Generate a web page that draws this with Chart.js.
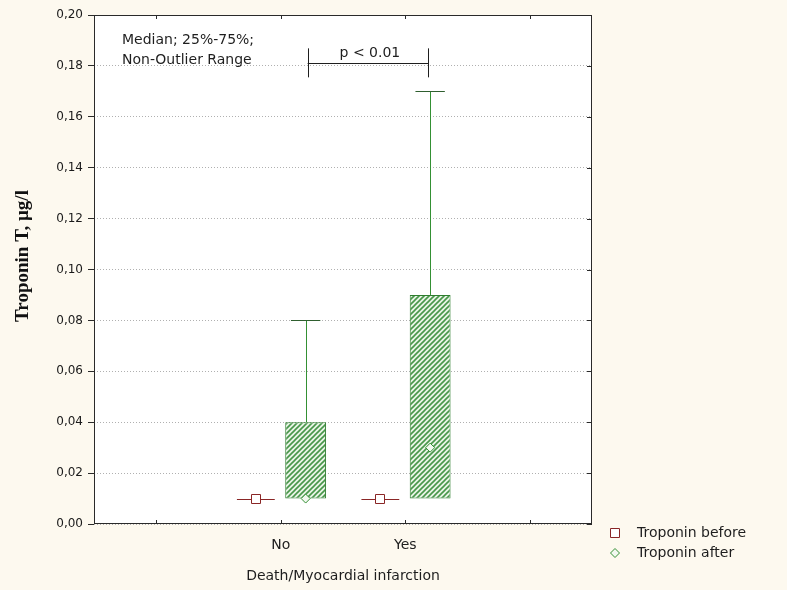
<!DOCTYPE html>
<html>
<head>
<meta charset="utf-8">
<script src="https://cdn.jsdelivr.net/npm/chart.js@4/dist/chart.umd.min.js"></script>
<style>
  html, body { margin: 0; padding: 0; background: #fdf9ef; }
  canvas { display: block; }
</style>
</head>
<body>
<canvas id="c" width="787" height="590"></canvas>
<script>
// Categories on the x axis (empty slots at both ends keep the groups centred)
const categories = ['', 'No', 'Yes', ''];
const seriesNames = ['Troponin before', 'Troponin after'];

// Troponin before: median, quartiles and non-outlier range
const beforeMedian = [null, 0.01, 0.01, null];
const beforeQ1     = [null, 0.01, 0.01, null];
const beforeQ3     = [null, 0.01, 0.01, null];
const beforeMin    = [null, 0.01, 0.01, null];
const beforeMax    = [null, 0.01, 0.01, null];

// Troponin after: median, quartiles and non-outlier range
const afterMedian = [null, 0.01, 0.03, null];
const afterQ1     = [null, 0.01, 0.01, null];
const afterQ3     = [null, 0.04, 0.09, null];
const afterMin    = [null, 0.01, 0.01, null];
const afterMax    = [null, 0.08, 0.17, null];

// Value axis
const yMin = 0, yMax = 0.20, yStep = 0.02;
const yTitle = 'Troponin T, \u00b5g/l';
const xTitle = 'Death/Myocardial infarction';
const pValueText = 'p < 0.01';
const pBracketLevel = 0.181;
const statsNote = ['Median; 25%-75%;', 'Non-Outlier Range'];

const FONT = '"DejaVu Sans", sans-serif';
const SERIF = '"Liberation Serif", "Times New Roman", serif';
const colBefore = '#8a2626';
const colAfter = '#349034';
const colBorder = '#2e7d2e';
const colCap = '#2f5f2f';

function hatchPattern() {
  const s = 5;
  const c = document.createElement('canvas');
  c.width = s; c.height = s;
  const g = c.getContext('2d');
  g.fillStyle = '#e9f4e6';
  g.fillRect(0, 0, s, s);
  g.strokeStyle = '#48974a';
  g.lineWidth = 1.6;
  g.beginPath();
  g.moveTo(-1, s + 1); g.lineTo(s + 1, -1);
  g.moveTo(-1, 1); g.lineTo(1, -1);
  g.moveTo(s - 1, s + 1); g.lineTo(s + 1, s - 1);
  g.stroke();
  return g.createPattern(c, 'repeat');
}

const boxes = (q1, q3) => q1.map((v, i) => (v === null ? null : [v, q3[i]]));

const stats = [
  { median: beforeMedian, q1: beforeQ1, q3: beforeQ3, min: beforeMin, max: beforeMax, color: colBefore, marker: 'square' },
  { median: afterMedian, q1: afterQ1, q3: afterQ3, min: afterMin, max: afterMax, color: colAfter, marker: 'diamond' }
];

function drawMarker(ctx, type, x, y, color) {
  ctx.save();
  ctx.lineWidth = 1;
  ctx.strokeStyle = color;
  ctx.fillStyle = type === 'square' ? '#ffffff' : '#f2f8f0';
  ctx.beginPath();
  if (type === 'square') {
    ctx.rect(Math.round(x) - 4.5, Math.round(y) - 4.5, 9, 9);
  } else {
    const r = 4.5;
    ctx.moveTo(x, y - r); ctx.lineTo(x + r, y); ctx.lineTo(x, y + r); ctx.lineTo(x - r, y); ctx.closePath();
  }
  ctx.fill();
  ctx.stroke();
  ctx.restore();
}

function hLine(ctx, x1, x2, y) {
  const yy = Math.round(y) + 0.5;
  ctx.beginPath(); ctx.moveTo(x1, yy); ctx.lineTo(x2, yy); ctx.stroke();
}
function vLine(ctx, x, y1, y2) {
  const xx = Math.round(x) + 0.5;
  ctx.beginPath(); ctx.moveTo(xx, y1); ctx.lineTo(xx, y2); ctx.stroke();
}

const boxExtras = {
  id: 'boxExtras',
  beforeDraw(chart) {
    const { ctx, chartArea: a } = chart;
    ctx.save();
    ctx.fillStyle = '#fdf9ef';
    ctx.fillRect(0, 0, chart.width, chart.height);
    ctx.fillStyle = '#ffffff';
    ctx.fillRect(a.left, a.top, a.right - a.left, a.bottom - a.top);
    ctx.restore();
  },
  afterDatasetsDraw(chart) {
    const { ctx } = chart;
    const y = chart.scales.y;
    ctx.save();
    stats.forEach((s, d) => {
      const meta = chart.getDatasetMeta(d);
      meta.data.forEach((el, i) => {
        if (s.median[i] === null) return;
        const x = el.x, w = el.width;
        const yQ1 = y.getPixelForValue(s.q1[i]);
        const yQ3 = y.getPixelForValue(s.q3[i]);
        const yMaxP = y.getPixelForValue(s.max[i]);
        const yMinP = y.getPixelForValue(s.min[i]);
        ctx.lineWidth = 1;
        ctx.strokeStyle = s.color;
        if (s.q1[i] === s.q3[i]) {
          hLine(ctx, x - w / 2, x + w / 2, yQ1);
        }
        if (s.max[i] > s.q3[i]) {
          vLine(ctx, x, yMaxP, yQ3);
          ctx.strokeStyle = colCap;
          hLine(ctx, x - w * 0.36, x + w * 0.36, yMaxP);
          ctx.strokeStyle = s.color;
        }
        if (s.min[i] < s.q1[i]) {
          vLine(ctx, x, yQ1, yMinP);
          ctx.strokeStyle = colCap;
          hLine(ctx, x - w * 0.36, x + w * 0.36, yMinP);
        }
        drawMarker(ctx, s.marker, x, y.getPixelForValue(s.median[i]), s.color);
      });
    });
    ctx.restore();
  },
  afterDraw(chart) {
    const { ctx, chartArea: a } = chart;
    const xs = chart.scales.x, ys = chart.scales.y;
    ctx.save();
    ctx.strokeStyle = '#2a2a2a';
    ctx.lineWidth = 1;
    // frame
    ctx.strokeRect(Math.round(a.left) + 0.5, Math.round(a.top) + 0.5,
                   Math.round(a.right - a.left) - 1, Math.round(a.bottom - a.top) - 1);
    // inward tick marks on bottom, top and right edges
    xs.ticks.forEach((t, i) => {
      const px = xs.getPixelForTick(i);
      vLine(ctx, px, a.bottom - 4, a.bottom);
      vLine(ctx, px, a.top, a.top + 4);
    });
    ys.ticks.forEach((t, i) => {
      const py = ys.getPixelForTick(i);
      hLine(ctx, a.right - 5, a.right, py);
    });

    // value axis title
    ctx.save();
    ctx.translate(23, 256);
    ctx.rotate(-Math.PI / 2);
    ctx.fillStyle = '#111111';
    ctx.font = 'bold 19px ' + SERIF;
    ctx.textAlign = 'center';
    ctx.textBaseline = 'middle';
    ctx.fillText(yTitle, 0, 0);
    ctx.restore();

    // statistics note
    ctx.fillStyle = '#1e1e1e';
    ctx.font = '14px ' + FONT;
    ctx.textBaseline = 'middle';
    ctx.textAlign = 'left';
    ctx.fillText(statsNote[0], a.left + 28, a.top + 25);
    ctx.fillText(statsNote[1], a.left + 28, a.top + 45);

    // significance bracket between the "after" boxes
    const after = chart.getDatasetMeta(1).data;
    const xL = after[1].x + 2, xR = after[2].x - 2;
    const yb = ys.getPixelForValue(pBracketLevel);
    ctx.strokeStyle = '#1e1e1e';
    hLine(ctx, xL, xR, yb);
    vLine(ctx, xL, yb - 15, yb + 14);
    vLine(ctx, xR, yb - 15, yb + 14);
    ctx.textAlign = 'center';
    ctx.fillText(pValueText, (xL + xR) / 2 + 2, yb - 10);

    // legend
    const lx = a.right + 23;
    const ly = a.bottom + 9;
    chart.data.datasets.forEach((ds, d) => {
      const yy = ly + d * 20;
      drawMarker(ctx, stats[d].marker, lx, yy, stats[d].color);
      ctx.fillStyle = '#1e1e1e';
      ctx.textAlign = 'left';
      ctx.fillText(ds.label, lx + 22, yy);
    });
    ctx.restore();
  }
};

const hatch = hatchPattern();

new Chart(document.getElementById('c'), {
  type: 'bar',
  data: {
    labels: categories,
    datasets: [
      {
        label: seriesNames[0],
        data: boxes(beforeQ1, beforeQ3),
        backgroundColor: 'rgba(0,0,0,0)',
        borderColor: colBefore,
        borderWidth: 0,
        borderSkipped: false,
        barPercentage: 0.76,
        categoryPercentage: 0.8
      },
      {
        label: seriesNames[1],
        data: boxes(afterQ1, afterQ3),
        backgroundColor: hatch,
        borderColor: colBorder,
        borderWidth: 1,
        borderSkipped: false,
        barPercentage: 0.82,
        categoryPercentage: 0.8
      }
    ]
  },
  options: {
    responsive: false,
    animation: false,
    devicePixelRatio: 1,
    layout: { padding: { top: 15, right: 195, left: 0, bottom: 0 } },
    plugins: {
      legend: { display: false },
      tooltip: { enabled: false }
    },
    scales: {
      x: {
        type: 'category',
        offset: true,
        grid: { display: false, drawTicks: false },
        border: { display: false },
        ticks: { color: '#1e1e1e', font: { family: FONT, size: 14 }, padding: 13, maxRotation: 0, autoSkip: false },
        title: {
          display: true,
          text: xTitle,
          color: '#1e1e1e',
          font: { family: FONT, size: 14 },
          padding: { top: 0, bottom: 5 }
        },
        afterFit(scale) { scale.height = 66; }
      },
      y: {
        min: yMin,
        max: yMax,
        grid: {
          color: '#b0b0b0',
          lineWidth: 1,
          tickLength: 6,
          tickColor: '#2a2a2a',
          drawTicks: true
        },
        border: { display: false, dash: [1, 2] },
        ticks: {
          stepSize: yStep,
          color: '#1a1a1a',
          font: { family: FONT, size: 12 },
          padding: 5,
          callback: (v) => Number(v).toFixed(2).replace('.', ',')
        },
        afterFit(scale) { scale.width = 94; }
      }
    }
  },
  plugins: [boxExtras]
});
</script>
</body>
</html>
